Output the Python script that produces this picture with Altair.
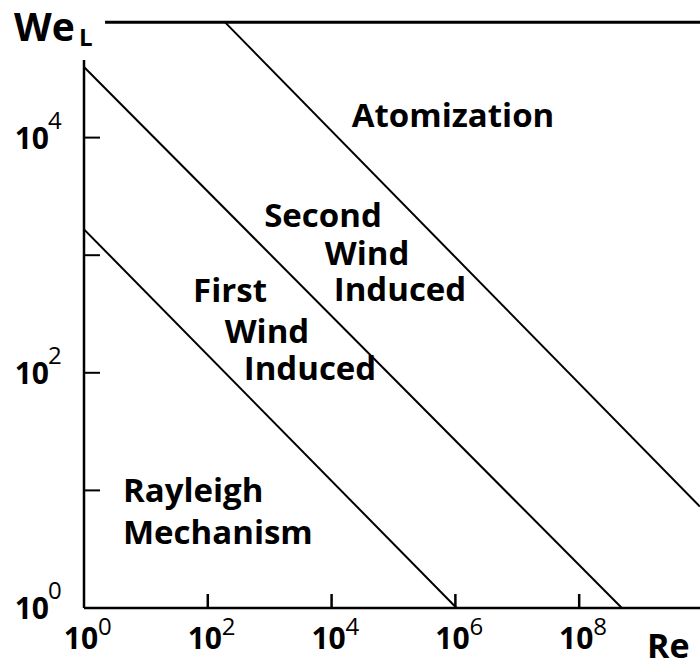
import altair as alt
import pandas as pd

# ---- regime boundary lines (Re_L, We_L endpoints)
boundary = ["Rayleigh | First wind", "First wind | Second wind", "Second wind | Atomization"]
re_start = [10**0.0, 10**0.0, 10**2.28]
we_start = [10**3.22, 10**4.60, 10**4.98]
re_end = [10**6.02, 10**8.69, 10**9.95]
we_end = [10**0.0, 10**0.0, 10**0.862]

# ---- axis ticks / labels (powers of ten)
x_tick_exp = [2, 4, 6, 8]
x_label_exp = [0, 2, 4, 6, 8]
y_tick_exp = [1, 2, 3, 4]
y_label_exp = [0, 2, 4]

# ---- frame lines (left spine, bottom spine, top line)
re_min, re_max = 1.0, 10**9.952
we_min, we_max = 1.0, 10**5.0
left_spine_top = 10**4.66
top_line_we = 10**4.98
top_line_start = 10**0.34

# ---- region labels (text, anchor Re, anchor We, alignment)
label_text = ["Atomization", "Second", "Wind", "Induced", "First", "Wind", "Induced",
              "Rayleigh", "Mechanism"]
label_re = [10**5.961, 10**3.861, 10**4.572, 10**5.105, 10**2.359, 10**2.956, 10**3.651,
            10**0.63, 10**0.63]
label_we = [10**4.089, 10**3.238, 10**2.915, 10**2.609, 10**2.600, 10**2.251, 10**1.936,
            10**0.898, 10**0.540]
label_align = ["center"] * 7 + ["left"] * 2

W, H = 616, 588
FONT = "Open Sans"

xs = alt.Scale(type="log", domain=[re_min, re_max], nice=False)
ys = alt.Scale(type="log", domain=[we_min, we_max], nice=False)

lines_df = pd.DataFrame({
    "name": boundary * 2,
    "Re": re_start + re_end,
    "We": we_start + we_end,
})
lines = alt.Chart(lines_df).mark_line(color="black", strokeWidth=2).encode(
    x=alt.X("Re:Q", scale=xs, axis=None),
    y=alt.Y("We:Q", scale=ys, axis=None),
    detail="name:N",
)

frame_df = pd.DataFrame({
    "re1": [re_min, re_min],
    "re2": [re_min, re_max],
    "we1": [we_min, we_min],
    "we2": [left_spine_top, we_min],
})
frame = alt.Chart(frame_df).mark_rule(color="black", strokeWidth=2.5).encode(
    x=alt.X("re1:Q", scale=xs, axis=None), x2="re2:Q",
    y=alt.Y("we1:Q", scale=ys, axis=None), y2="we2:Q",
)
top_df = pd.DataFrame({"re1": [top_line_start], "re2": [re_max], "we": [top_line_we]})
top = alt.Chart(top_df).mark_rule(color="black", strokeWidth=3).encode(
    x=alt.X("re1:Q", scale=xs, axis=None), x2="re2:Q",
    y=alt.Y("we:Q", scale=ys, axis=None),
)

ytick_df = pd.DataFrame({"We": [10.0**e for e in y_tick_exp]})
yticks = alt.Chart(ytick_df).mark_rule(color="black", strokeWidth=2).encode(
    y=alt.Y("We:Q", scale=ys, axis=None), x=alt.value(0), x2=alt.value(16),
)
xtick_df = pd.DataFrame({"Re": [10.0**e for e in x_tick_exp]})
xticks = alt.Chart(xtick_df).mark_rule(color="black", strokeWidth=2.5).encode(
    x=alt.X("Re:Q", scale=xs, axis=None), y=alt.value(H), y2=alt.value(H - 14),
)

ylab_df = pd.DataFrame({"We": [10.0**e for e in y_label_exp],
                        "base": ["10"] * len(y_label_exp),
                        "exp": [str(e) for e in y_label_exp]})
ylab_base = alt.Chart(ylab_df).mark_text(
    font=FONT, fontWeight="bold", fontSize=30, align="right", baseline="middle", dy=2
).encode(y=alt.Y("We:Q", scale=ys, axis=None), x=alt.value(-35), text="base:N")
ylab_exp = alt.Chart(ylab_df).mark_text(
    font=FONT, fontWeight="normal", fontSize=24, align="left", baseline="middle", dy=-16
).encode(y=alt.Y("We:Q", scale=ys, axis=None), x=alt.value(-36), text="exp:N")

xlab_df = pd.DataFrame({"Re": [10.0**e for e in x_label_exp],
                        "base": ["10"] * len(x_label_exp),
                        "exp": [str(e) for e in x_label_exp]})
xlab_base = alt.Chart(xlab_df).mark_text(
    font=FONT, fontWeight="bold", fontSize=30, align="center", baseline="middle", dx=-3
).encode(x=alt.X("Re:Q", scale=xs, axis=None), y=alt.value(H + 32), text="base:N")
xlab_exp = alt.Chart(xlab_df).mark_text(
    font=FONT, fontWeight="normal", fontSize=24, align="left", baseline="middle", dx=14
).encode(x=alt.X("Re:Q", scale=xs, axis=None), y=alt.value(H + 20), text="exp:N")

lab_df = pd.DataFrame({"text": label_text, "Re": label_re, "We": label_we, "align": label_align})
region_c = alt.Chart(lab_df[lab_df["align"] == "center"]).mark_text(
    font=FONT, fontWeight="bold", fontSize=33, align="center", baseline="alphabetic"
).encode(x=alt.X("Re:Q", scale=xs, axis=None), y=alt.Y("We:Q", scale=ys, axis=None), text="text:N")
region_l = alt.Chart(lab_df[lab_df["align"] == "left"]).mark_text(
    font=FONT, fontWeight="bold", fontSize=33, align="left", baseline="alphabetic"
).encode(x=alt.X("Re:Q", scale=xs, axis=None), y=alt.Y("We:Q", scale=ys, axis=None), text="text:N")

we_title = alt.Chart(pd.DataFrame({"t": ["We"]})).mark_text(
    font=FONT, fontWeight="bold", fontSize=39, align="left", baseline="alphabetic"
).encode(x=alt.value(-70), y=alt.value(21), text="t:N")
we_sub = alt.Chart(pd.DataFrame({"t": ["L"]})).mark_text(
    font=FONT, fontWeight="bold", fontSize=24, align="left", baseline="alphabetic"
).encode(x=alt.value(-5), y=alt.value(26), text="t:N")
re_title = alt.Chart(pd.DataFrame({"t": ["Re"]})).mark_text(
    font=FONT, fontWeight="bold", fontSize=34, align="left", baseline="alphabetic"
).encode(x=alt.value(563), y=alt.value(H + 50), text="t:N")

chart = alt.layer(
    lines, frame, top, yticks, xticks, ylab_base, ylab_exp, xlab_base, xlab_exp,
    region_c, region_l, we_title, we_sub, re_title,
).properties(
    width=W, height=H,
    autosize=alt.AutoSizeParams(type="none"),
    padding={"left": 84, "top": 20, "right": 0, "bottom": 60},
).configure_view(stroke=None)

chart.save("out.html", embed_options={"renderer": "svg", "actions": False})
